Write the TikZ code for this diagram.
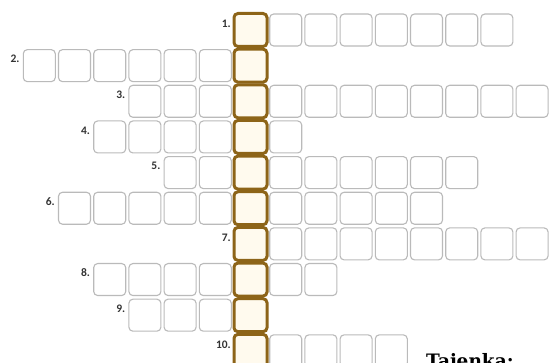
\documentclass[tikz,border=0pt]{standalone}
\usepackage{fontspec}
\usetikzlibrary{calc}
\newfontfamily\numfont{Carlito}
\newfontfamily\titlefont{DejaVu Serif}
\definecolor{keybrown}{HTML}{8D6418}
\definecolor{keyfill}{HTML}{FFFAEE}
\tikzset{
    cell/.style={draw=black!27, line width=1.1pt, rounded corners=4pt, fill=white, minimum width=32pt, minimum height=32pt, inner sep=0pt},
    keycell/.style={draw=keybrown, line width=3pt, rounded corners=4pt, fill=keyfill, minimum width=33pt, minimum height=33pt, inner sep=0pt},
    num/.style={font=\numfont\bfseries\fontsize{11.5}{11.5}\selectfont, text=black!80, inner sep=0pt, anchor=east},
}
\begin{document}
\begin{tikzpicture}[x=1pt, y=-1pt]
    \clip (0,0) rectangle (550,363);
    % Rows: number / first column / last column (column 7 holds the key word)
    \foreach \r/\a/\b in {1/7/14, 2/1/7, 3/4/15, 4/3/8, 5/5/13, 6/2/12, 7/7/15, 8/3/9, 9/4/7, 10/7/11} {
        \foreach \j in {\a,...,\b} {
            \node[cell] (c\r-\j) at (250.5+35.2*\j-246.4, 30+35.65*\r-35.65) {};
        }
        \node[num] (n\r) at ($(c\r-\a.north west)+(-3,10)$) {\r.};
    }
    % Key column
    \foreach \r in {1,...,10} {
        \node[keycell] (k\r) at (c\r-7) {};
    }
    \node[anchor=base west, inner sep=0pt, font=\titlefont\bfseries\fontsize{18.5}{18.5}\selectfont] (tajenka) at ($(c10-11.east)+(18,17)$) {Tajenka:};
\end{tikzpicture}
\end{document}
